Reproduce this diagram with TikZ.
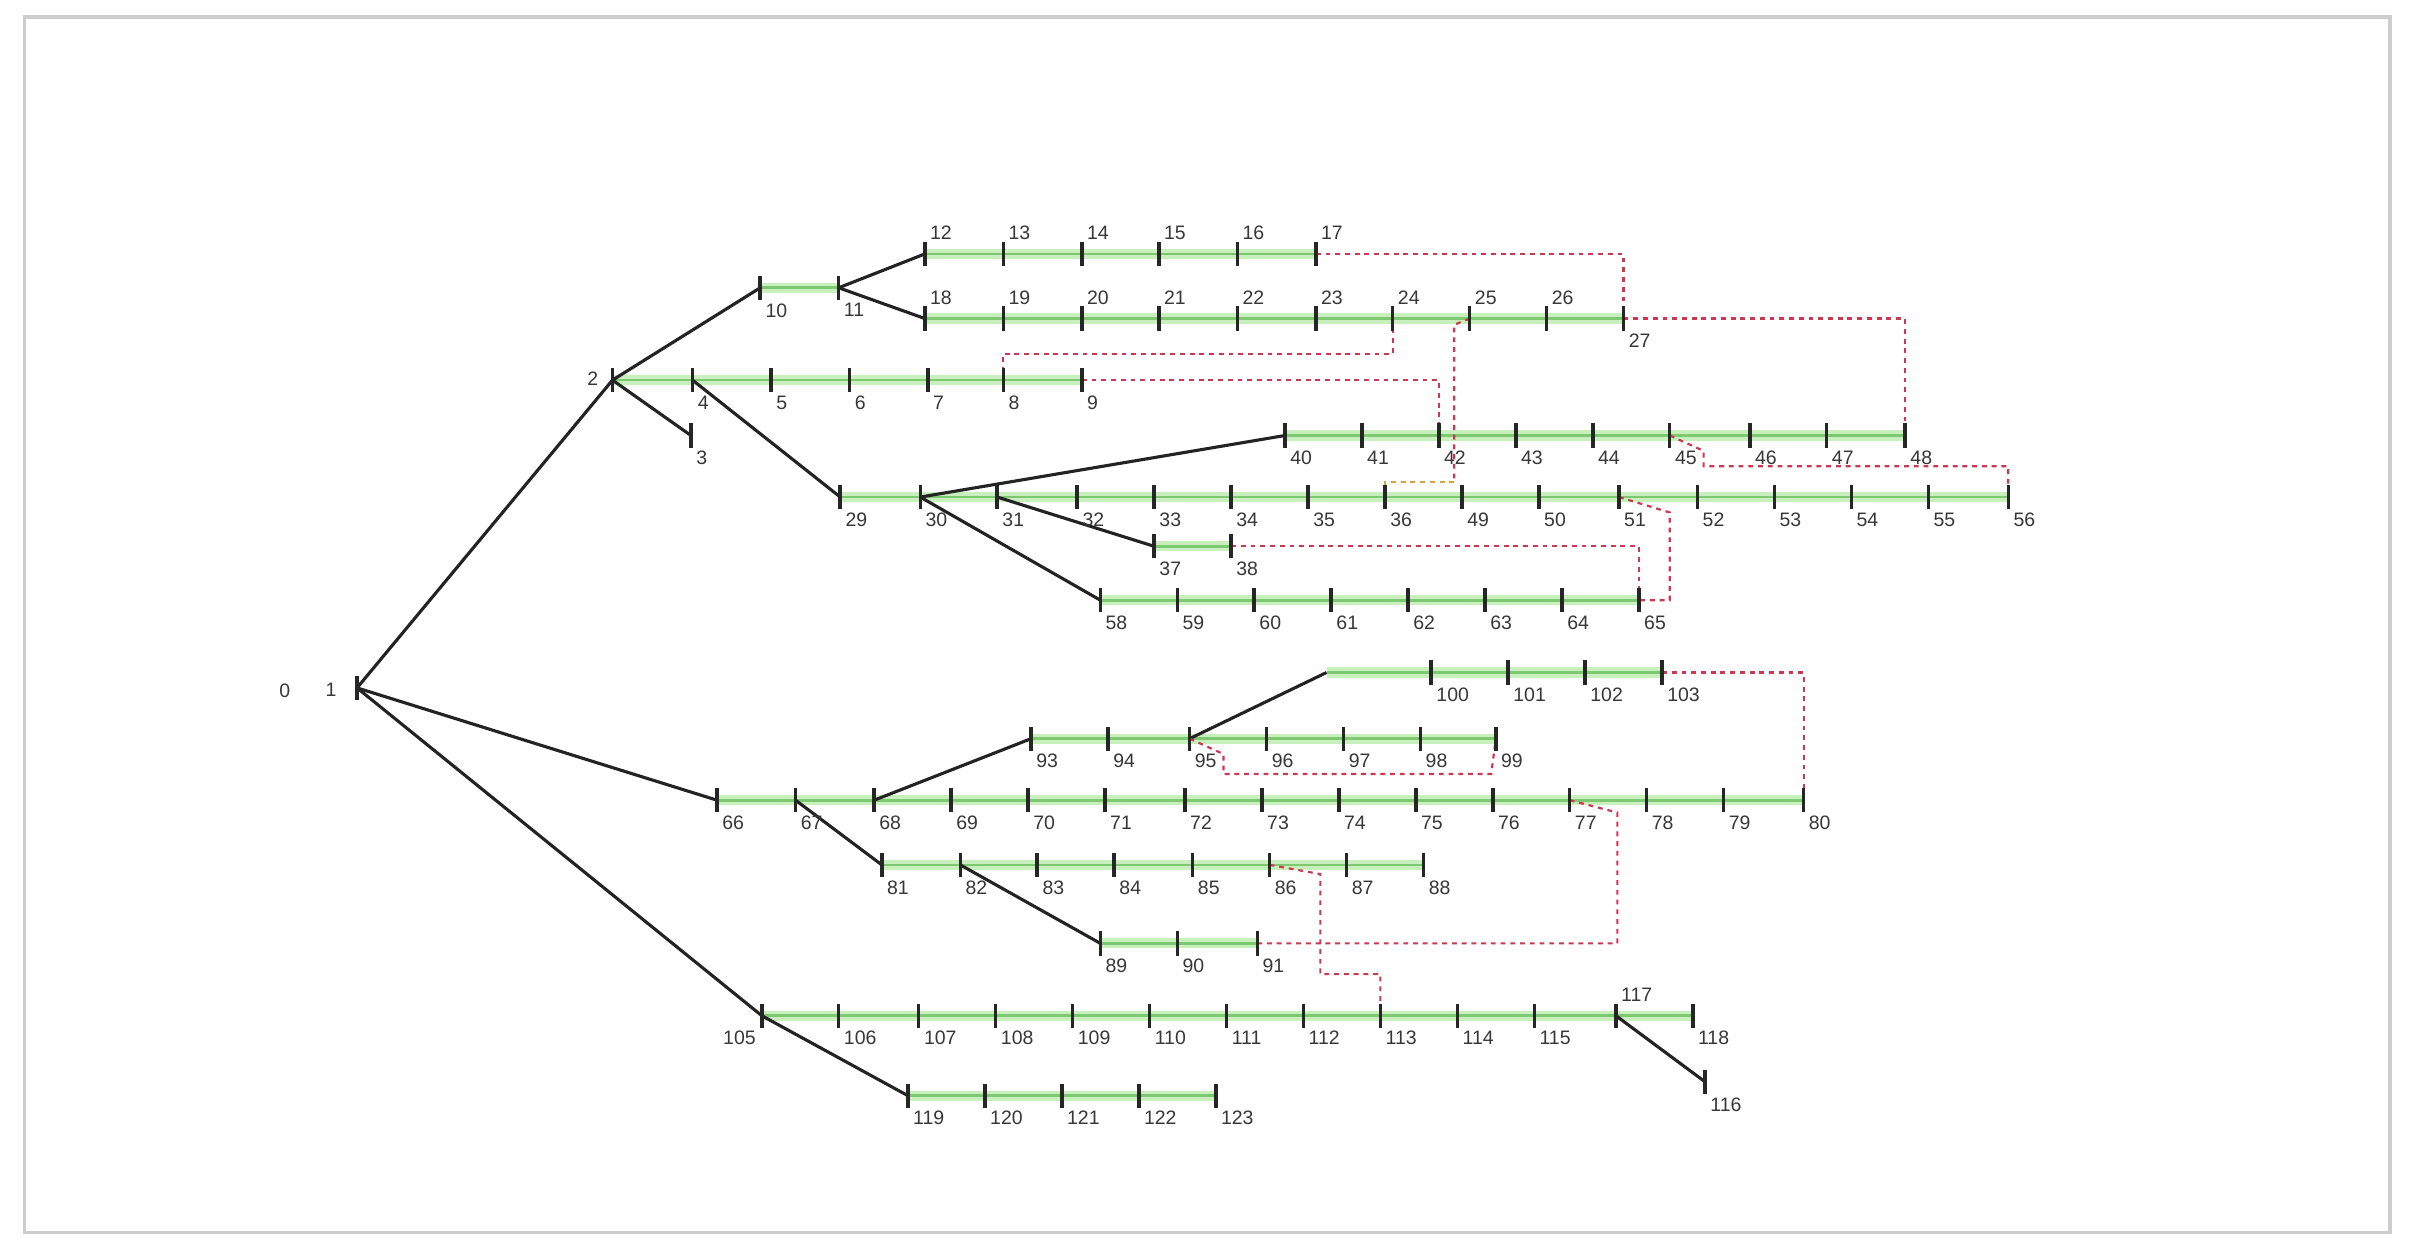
\documentclass[tikz,border=0pt]{standalone}
\usepackage{fontspec}
\setmainfont{Liberation Sans}
\usetikzlibrary{backgrounds}
\definecolor{bandg}{RGB}{200,240,188}
\definecolor{lineg}{RGB}{125,200,112}
\definecolor{tiered}{RGB}{205,55,80}
\definecolor{tieorange}{RGB}{215,165,60}
\definecolor{labc}{RGB}{55,55,55}
\definecolor{branchc}{RGB}{35,35,35}
\definecolor{framec}{RGB}{205,205,205}
\tikzset{
  bus/.style={rectangle, fill=black!85, inner sep=0pt, minimum width=1.3pt, minimum height=9pt},
  lab/.style={font=\fontsize{7.2}{8}\selectfont, text=labc, inner sep=0pt},
  band/.style={draw=bandg, line width=3.8pt, line cap=butt},
  feeder/.style={draw=lineg, line width=1pt},
  branch/.style={draw=branchc, line width=1.15pt},
  tie/.style={draw=tiered, line width=0.8pt, dash pattern=on 1.8pt off 1.8pt},
  tieo/.style={draw=tieorange, line width=0.8pt, dash pattern=on 1.8pt off 1.8pt},
  framebox/.style={draw=framec, line width=1.3pt}
}
\newcommand\busB[3]{\node[bus] (n#1) at (#2,#3) {};
  \node[lab,anchor=north west] (l#1) at ([xshift=0.9pt,yshift=-0.9pt]n#1.south east) {#1};}
\newcommand\busA[3]{\node[bus] (n#1) at (#2,#3) {};
  \node[lab,anchor=south west] (l#1) at ([xshift=0.9pt,yshift=0.3pt]n#1.north east) {#1};}
\begin{document}
\begin{tikzpicture}[x=0.02cm,y=-0.02cm]
\useasboundingbox (0,0) rectangle (1568,814);
% nodes
\node[lab] (n0) at (185,449) {0};
\node[bus] (n1) at (232,447) {};
\node[lab,anchor=east] (l1) at (219,448) {1};
\node[bus] (n2) at (398,247) {};
\node[lab,anchor=east] (l2) at (389,246) {2};
\busB{3}{449}{283}
\foreach \n/\x in {4/450,5/501,6/552,7/603,8/652,9/703} {\busB{\n}{\x}{247}}
\busB{10}{494}{187}
\busB{11}{545}{187}
\foreach \n/\x in {12/601,13/652,14/703,15/753,16/804,17/855} {\busA{\n}{\x}{165}}
\foreach \n/\x in {18/601,19/652,20/703,21/753,22/804,23/855,24/905,25/955,26/1005} {\busA{\n}{\x}{207}}
\busB{27}{1055}{207}
\foreach \n/\x in {29/546,30/598,31/648,32/700,33/750,34/800,35/850,36/900,49/950,50/1000,51/1052,52/1103,53/1153,54/1203,55/1253,56/1305} {\busB{\n}{\x}{323}}
\busB{37}{750}{355}
\busB{38}{800}{355}
\foreach \n/\x in {40/835,41/885,42/935,43/985,44/1035,45/1085,46/1137,47/1187,48/1238} {\busB{\n}{\x}{283}}
\foreach \n/\x in {58/715,59/765,60/815,61/865,62/915,63/965,64/1015,65/1065} {\busB{\n}{\x}{390}}
\foreach \n/\x in {100/930,101/980,102/1030,103/1080} {\busB{\n}{\x}{437}}
\foreach \n/\x in {93/670,94/720,95/773,96/823,97/873,98/923,99/972} {\busB{\n}{\x}{480}}
\foreach \n/\x in {66/466,67/517,68/568,69/618,70/668,71/718,72/770,73/820,74/870,75/920,76/970,77/1020,78/1070,79/1120,80/1172} {\busB{\n}{\x}{520}}
\foreach \n/\x in {81/573,82/624,83/674,84/724,85/775,86/825,87/875,88/925} {\busB{\n}{\x}{562}}
\foreach \n/\x in {89/715,90/765,91/817} {\busB{\n}{\x}{613}}
\node[bus] (n105) at (495,660) {};
\node[lab,anchor=north east] (l105) at ([xshift=-1.2pt,yshift=-0.9pt]n105.south west) {105};
\foreach \n/\x in {106/545,107/597,108/647,109/697,110/747,111/797,112/847,113/897,114/947,115/997,118/1100} {\busB{\n}{\x}{660}}
\busA{117}{1050}{660}
\busB{116}{1108}{703}
\foreach \n/\x in {119/590,120/640,121/690,122/740,123/790} {\busB{\n}{\x}{712}}
% bend points
\coordinate (j100) at (862,437);
\coordinate (a1) at (905,230);
\coordinate (a2) at (652,230);
\coordinate (b1) at (945,211);
\coordinate (b2) at (945,313);
\coordinate (b3) at (900,313);
\coordinate (c1) at (1107,293);
\coordinate (c2) at (1107,303);
\coordinate (d1) at (1085,333);
\coordinate (d2) at (1085,390);
\coordinate (e1) at (795,490);
\coordinate (e2) at (795,503);
\coordinate (e3) at (969,503);
\coordinate (f1) at (1051,528);
\coordinate (f2) at (1051,613);
\coordinate (g1) at (858,568);
\coordinate (g2) at (858,633);
\coordinate (g3) at (897,633);
\begin{scope}[on background layer]
\fill[white] (0,0) rectangle (1568,814);
\draw[framebox] (16,11) rectangle (1553,801);
% green feeders
\foreach \s/\e in {n2/n9,n10/n11,n12/n17,n18/n27,n40/n48,n29/n56,n37/n38,n58/n65,j100/n103,n93/n99,n66/n80,n81/n88,n89/n91,n105/n118,n119/n123} {
  \path[band] (\s.center) -- (\e.center);
}
\foreach \s/\e in {n2/n9,n10/n11,n12/n17,n18/n27,n40/n48,n29/n56,n37/n38,n58/n65,j100/n103,n93/n99,n66/n80,n81/n88,n89/n91,n105/n118,n119/n123} {
  \path[feeder] (\s.center) -- (\e.center);
}
% black branches
\foreach \s/\e in {n1/n2,n1/n66,n1/n105,n2/n3,n2/n10,n4/n29,n11/n12,n11/n18,n30/n40,n30/n58,n31/n37,n67/n81,n68/n93,n82/n89,n95/j100,n105/n119,n117/n116} {
  \path[branch] (\s.center) -- (\e.center);
}
% tie lines
\path[tie] (n17.center) -| (n27.center);
\path[tie] (n27.center) -| (n48.center);
\path[tie] (n24.center) -- (a1) -- (a2) -- (n8.center);
\path[tie] (n9.center) -| (n42.center);
\path[tie] (n25.center) -- (b1) -- (b2);
\path[tieo] (b2) -- (b3) -- (n36.center);
\path[tie] (n45.center) -- (c1) -- (c2) -| (n56.center);
\path[tie] (n38.center) -| (n65.center);
\path[tie] (n51.center) -- (d1) -- (d2) -- (n65.center);
\path[tie] (n103.center) -| (n80.center);
\path[tie] (n95.center) -- (e1) -- (e2) -- (e3) -- (n99.center);
\path[tie] (n77.center) -- (f1) -- (f2) -- (n91.center);
\path[tie] (n86.center) -- (g1) -- (g2) -- (g3) -- (n113.center);
\end{scope}
\end{tikzpicture}
\end{document}
